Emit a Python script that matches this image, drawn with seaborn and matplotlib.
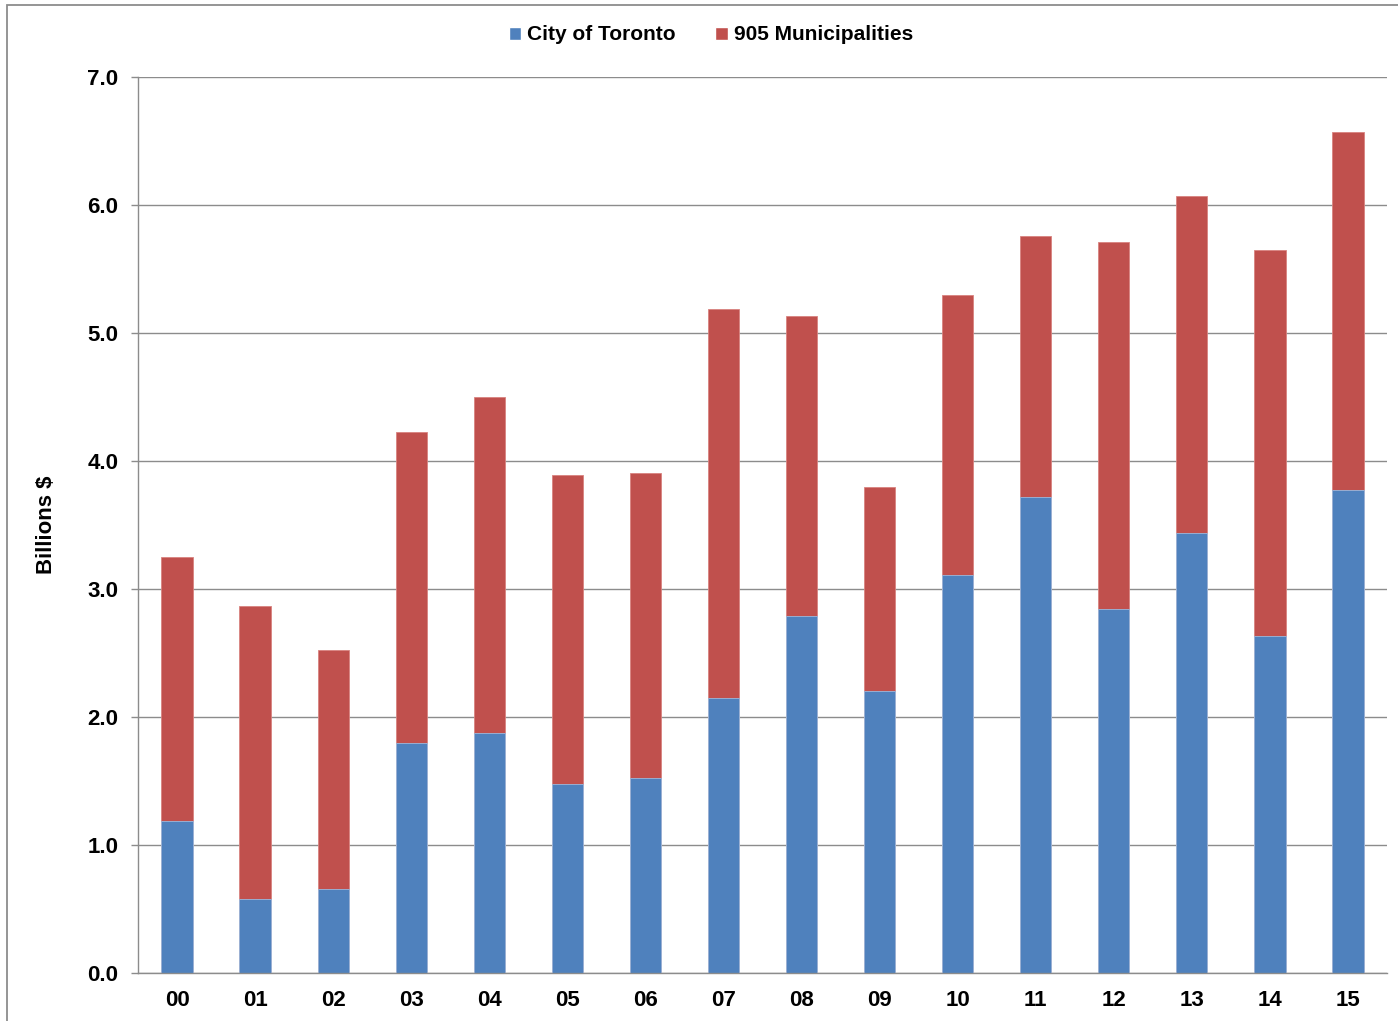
import matplotlib
matplotlib.use("Agg")
import matplotlib.pyplot as plt
import seaborn as sns
import pandas as pd
from matplotlib.patches import Patch, Rectangle

# ── Data (billions $) ──
years = ["00", "01", "02", "03", "04", "05", "06", "07",
         "08", "09", "10", "11", "12", "13", "14", "15"]
toronto = [1.19, 0.58, 0.66, 1.80, 1.875, 1.48, 1.52, 2.15,
           2.79, 2.20, 3.11, 3.72, 2.84, 3.44, 2.63, 3.77]
total = [3.25, 2.87, 2.52, 4.23, 4.50, 3.89, 3.91, 5.19,
         5.13, 3.80, 5.30, 5.76, 5.71, 6.07, 5.65, 6.57]
municipalities = [t - c for t, c in zip(total, toronto)]

BLUE = "#4F81BD"
RED = "#C0504D"
GRID = "#8C8C8C"

df = pd.DataFrame({"year": years, "toronto": toronto,
                   "m905": municipalities})
df["total"] = df["toronto"] + df["m905"]

sns.set_style("white")
plt.rcParams["font.family"] = ["Liberation Sans", "DejaVu Sans"]
plt.rcParams["font.weight"] = "bold"
plt.rcParams["text.color"] = "black"
plt.rcParams["axes.labelcolor"] = "black"
plt.rcParams["xtick.color"] = "black"
plt.rcParams["ytick.color"] = "black"

fig = plt.figure(figsize=(13.98, 10.21), dpi=100)
ax = fig.add_axes([138 / 1398, 1 - 973 / 1021, (1387 - 138) / 1398, (973 - 77) / 1021])

# stacked: total in red behind, Toronto in blue in front
sns.barplot(data=df, x="year", y="total", color=RED, width=0.4,
            saturation=1, edgecolor="#D9837F", linewidth=0.6, ax=ax)
sns.barplot(data=df, x="year", y="toronto", color=BLUE, width=0.4,
            saturation=1, edgecolor="#9DB9DD", linewidth=0.6, ax=ax)

ax.set_ylim(0, 7)
ax.set_xlim(-0.5, len(years) - 0.5)
ax.set_yticks([i * 1.0 for i in range(8)])
ax.set_yticklabels([f"{i:.1f}" for i in range(8)])
ax.yaxis.grid(True, color=GRID, linewidth=1.0)
ax.set_axisbelow(True)
for s in ["top", "right"]:
    ax.spines[s].set_visible(False)
for s in ["left", "bottom"]:
    ax.spines[s].set_color(GRID)
    ax.spines[s].set_linewidth(1.0)
ax.tick_params(axis="y", left=True, length=5, width=1, color=GRID, pad=9,
               labelsize=16, labelcolor="black")
ax.tick_params(axis="x", bottom=False, pad=9, labelsize=16, labelcolor="black")
ax.set_xlabel("")
ax.set_ylabel("Billions $", fontsize=16, fontweight="bold", labelpad=22,
              color="black")

handles = [Patch(facecolor=BLUE, label="City of Toronto"),
           Patch(facecolor=RED, label="905 Municipalities")]
fig.legend(handles=handles, loc="center", ncol=2, frameon=False,
           bbox_to_anchor=(711 / 1398, 1 - 35 / 1021),
           prop={"size": 15, "weight": "bold"},
           handlelength=0.6, handleheight=0.6, handletextpad=0.3,
           columnspacing=1.9)

# chart-area border (left and top edges visible)
fig.patches.append(Rectangle((7 / 1398, -0.05), 1.2, 1 - 5 / 1021 + 0.05,
                             transform=fig.transFigure, fill=False,
                             edgecolor="#8C8C8C", linewidth=1.3))

fig.savefig("out.png", dpi=100)
